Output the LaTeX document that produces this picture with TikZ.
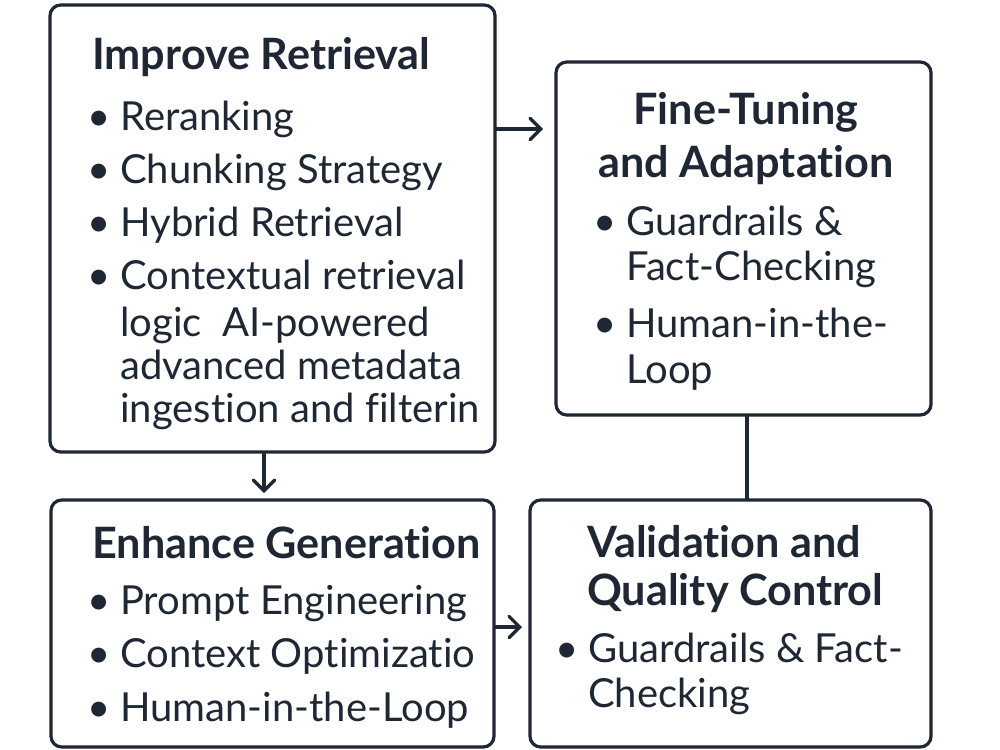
\documentclass[tikz,border=0pt]{standalone}
\usepackage{fontspec}
\setmainfont{Lato}[Ligatures={NoCommon,NoRare,NoDiscretionary}]
\usetikzlibrary{fit,arrows.meta}
\definecolor{ink}{HTML}{1E2733}
\newcommand{\itm}{\llap{\textbullet\hspace{7pt}}}

\begin{document}
\begin{tikzpicture}[x=0.75pt,y=-0.75pt,
    box/.style={draw=ink, line width=2.4pt, rounded corners=8pt, inner sep=0pt},
    head/.style={anchor=base west, inner sep=0pt, text=ink, font=\fontsize{32.4}{37}\selectfont\bfseries},
    item/.style={anchor=base west, inner sep=0pt, text=ink, font=\fontsize{30}{35}\selectfont},
    conn/.style={draw=ink, line width=2.4pt, line cap=round},
    arr/.style={conn, -{Straight Barb[length=8pt,width=16pt,line cap=round]}}]
    \useasboundingbox (0,0) rectangle (1000,750);

    % the four boxes
    \node [box, fit={(50,5) (495,452)}] (ret) {};
    \node [box, fit={(556,62) (931,415)}] (fine) {};
    \node [box, fit={(51,500) (494,747)}] (gen) {};
    \node [box, fit={(530,500) (931,747)}] (val) {};

    % improve retrieval
    \node [head] (retH) at (92,69) {Improve Retrieval};
    \node [item] (ret1) at (120,130) {\itm Reranking};
    \node [item] (ret2) at (120,183) {\itm Chunking Strategy};
    \node [item] (ret3) at (120,236) {\itm Hybrid Retrieval};
    \node [item] (ret4) at (120,289) {\itm Contextual retrieval};
    \node [item] (ret5) at (120,336) {logic\ \ AI-powered};
    \node [item] (ret6) at (120,379) {advanced metadata};
    \node [item] (ret7) at (120,422) {ingestion and filterin};

    % fine-tuning
    \node [head, anchor=base] (fineH1) at (746,124) {Fine-Tuning};
    \node [head, anchor=base] (fineH2) at (746,177) {and Adaptation};
    \node [item] (fine1) at (626,235) {\itm Guardrails \&};
    \node [item] (fine2) at (626,280) {Fact-Checking};
    \node [item] (fine3) at (626,337) {\itm Human-in-the-};
    \node [item] (fine4) at (626,383) {Loop};

    % enhance generation
    \node [head] (genH) at (92,558) {Enhance Generation};
    \node [item] (gen1) at (120,614) {\itm Prompt Engineering};
    \node [item] (gen2) at (120,667) {\itm Context Optimizatio};
    \node [item] (gen3) at (120,721) {\itm Human-in-the-Loop};

    % validation
    \node [head] (valH1) at (587,557) {Validation and};
    \node [head] (valH2) at (587,605) {Quality Control};
    \node [item] (val1) at (588,662) {\itm Guardrails \& Fact-};
    \node [item] (val2) at (588,707) {Checking};

    % connectors
    \coordinate (tipA) at (543,129);
    \coordinate (tipB) at (264,493);
    \coordinate (tipC) at (522,627);
    \coordinate (joinD) at (747,500);
    \draw [arr] (ret.east |- tipA) -- (tipA);
    \draw [arr] (ret.south -| tipB) -- (tipB);
    \draw [arr] (gen.east |- tipC) -- (tipC);
    \draw [conn] (fine.south -| joinD) -- (val.north -| joinD);
  \end{tikzpicture}
\end{document}
